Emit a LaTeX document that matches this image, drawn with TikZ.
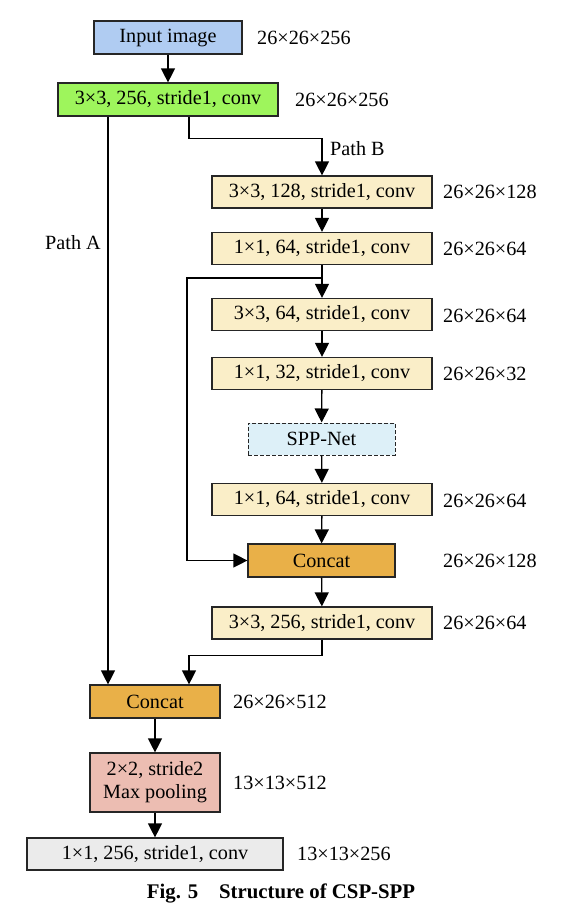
\documentclass[tikz,border=0pt]{standalone}
\usepackage{fontspec}
\setmainfont{Liberation Serif}
\usetikzlibrary{arrows.meta}
\newcommand\myfs{\fontsize{20.2}{23}\selectfont}
\definecolor{inblue}{HTML}{B0CCF2}
\definecolor{cgreen}{HTML}{9EF55C}
\definecolor{tan}{HTML}{FAEEC8}
\definecolor{sppc}{HTML}{DDF0F8}
\definecolor{catc}{HTML}{E9B048}
\definecolor{mpc}{HTML}{ECBDB2}
\definecolor{finc}{HTML}{EBEBEB}
\begin{document}
\begin{tikzpicture}[x=1pt,y=-1pt,
  box/.style={draw=black!85, line width=1.2pt, minimum height=33pt, inner sep=0pt, font=\myfs, align=center},
  tanbox/.style={box, fill=tan, minimum width=220pt, minimum height=32pt},
  lab/.style={anchor=west, inner sep=0pt, font=\myfs},
  arr/.style={line width=1.3pt, -{Triangle[length=14pt,width=14pt]}},
  ln/.style={line width=1.3pt}]
\useasboundingbox (0,0) rectangle (570,916);
\node[box, fill=inblue, minimum width=148pt] (in) at (168,37.5) {Input image};
\node[box, fill=cgreen, minimum width=220pt] (c1) at (168,99.5) {3×3, 256, stride1, conv};
\node[tanbox] (b1) at (322,192) {3×3, 128, stride1, conv};
\node[tanbox] (b2) at (322,248.5) {1×1, 64, stride1, conv};
\node[tanbox] (b3) at (322,314.5) {3×3, 64, stride1, conv};
\node[tanbox] (b4) at (322,373.5) {1×1, 32, stride1, conv};
\node[box, fill=sppc, dash pattern=on 4pt off 2pt, line width=1pt, minimum width=147pt, minimum height=32pt] (spp) at (321.5,439) {SPP-Net};
\node[tanbox] (b5) at (322,499.5) {1×1, 64, stride1, conv};
\node[box, fill=catc, minimum width=147pt] (cat1) at (321.5,560.5) {Concat};
\node[tanbox] (b6) at (322,623) {3×3, 256, stride1, conv};
\node[box, fill=catc, minimum width=130pt] (cat2) at (155,701.5) {Concat};
\node[box, fill=mpc, minimum width=130pt, minimum height=59pt] (mp) at (155,782.5) {2×2, stride2\\Max pooling};
\node[box, fill=finc, minimum width=256pt, minimum height=32pt] (fin) at (155,854) {1×1, 256, stride1, conv};

\node[lab] (l0) at (257,37.5) {26×26×256};
\node[lab] (l1) at (295,99.5) {26×26×256};
\node[lab] (l2) at (443,192) {26×26×128};
\node[lab] (l3) at (443,248.5) {26×26×64};
\node[lab] (l4) at (443,316) {26×26×64};
\node[lab] (l5) at (443,373.5) {26×26×32};
\node[lab] (l6) at (443,501) {26×26×64};
\node[lab] (l7) at (443,560.5) {26×26×128};
\node[lab] (l8) at (443,623) {26×26×64};
\node[lab] (l9) at (233,701.5) {26×26×512};
\node[lab] (l10) at (233,782.5) {13×13×512};
\node[lab] (l11) at (297,854) {13×13×256};
\node[lab] (pb) at (330,149) {Path B};
\node[lab] (pa) at (45,243) {Path A};
\node[font=\fontsize{20.8}{24}\selectfont\bfseries] (cap) at (281,893) {Fig. 5\quad Structure of CSP-SPP};

\coordinate (xa) at (108,0);
\coordinate (xb) at (189,0);
\coordinate (xl) at (187,0);
\coordinate (br) at (322,278);

\draw[arr] (in) -- (c1);
\draw[arr] (c1.south -| xa) -- (cat2.north -| xa);
\draw[arr] (c1.south -| xb) -- ++(0,22) -| (b1.north);
\draw[arr] (b1) -- (b2);
\draw[arr] (b2) -- (b3);
\draw[arr] (br) -- (br -| xl) |- (cat1.west);
\draw[arr] (b3) -- (b4);
\draw[arr] (b4) -- (spp);
\draw[arr] (spp) -- (b5);
\draw[arr] (b5) -- (cat1);
\draw[arr] (cat1) -- (b6);
\draw[arr] (b6.south) -- ++(0,16) -| (cat2.north -| xb);
\draw[arr] (cat2) -- (mp);
\draw[arr] (mp) -- (fin);
\end{tikzpicture}
\end{document}
